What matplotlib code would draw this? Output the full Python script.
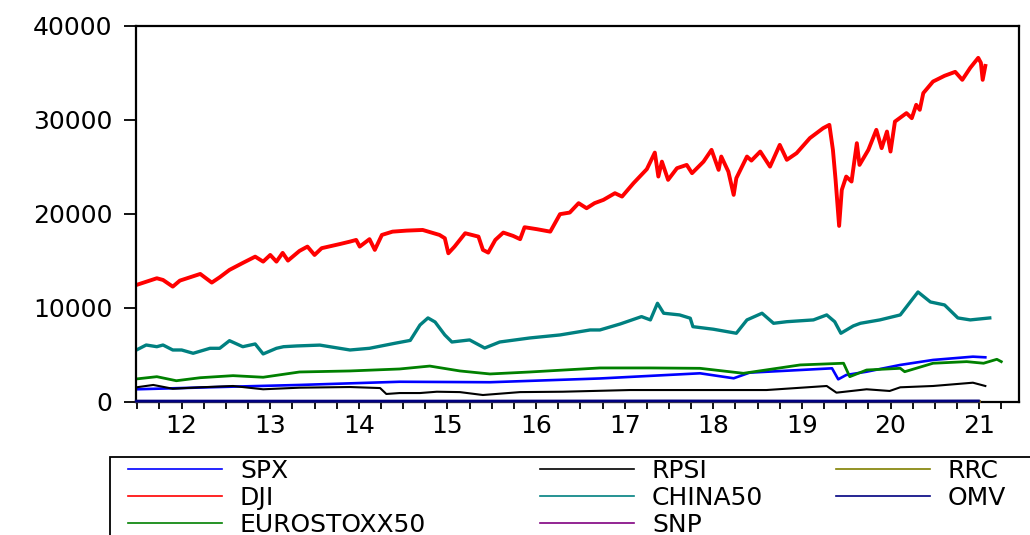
import numpy as np
import matplotlib
matplotlib.use("Agg")
import matplotlib.pyplot as plt
from matplotlib.patches import Rectangle

plt.rcParams['font.family'] = ['DejaVu Sans']

# ---------------- data (time in fractional years on the chart's axis) ----------------
spx_t = [2011.99, 2013.08, 2013.83, 2014.96, 2015.98, 2017.22, 2018.35, 2018.73, 2018.91,
         2019.48, 2019.84, 2019.91, 2020.00, 2020.23, 2020.61, 2020.98, 2021.43, 2021.57]
spx_v = [1300, 1580, 1760, 2100, 2050, 2450, 3000, 2470, 3070,
         3350, 3530, 2360, 2820, 3170, 3890, 4420, 4770, 4700]

dji_t = [2011.99, 2012.22, 2012.29, 2012.40, 2012.48, 2012.71, 2012.84, 2012.93, 2013.04, 2013.19,
         2013.33, 2013.42, 2013.50, 2013.57, 2013.64, 2013.70, 2013.83, 2013.92, 2014.00, 2014.08,
         2014.29, 2014.40, 2014.47, 2014.51, 2014.62, 2014.68, 2014.76, 2014.88, 2015.04, 2015.22,
         2015.41, 2015.47, 2015.51, 2015.58, 2015.70, 2015.85, 2015.90, 2015.96, 2016.04, 2016.13,
         2016.24, 2016.32, 2016.37, 2016.51, 2016.66, 2016.77, 2016.88, 2016.98, 2017.07, 2017.16,
         2017.26, 2017.39, 2017.47, 2017.60, 2017.75, 2017.84, 2017.88, 2017.92, 2017.99, 2018.09,
         2018.20, 2018.26, 2018.39, 2018.48, 2018.56, 2018.59, 2018.67, 2018.73, 2018.76, 2018.88,
         2018.93, 2019.03, 2019.14, 2019.25, 2019.33, 2019.44, 2019.59, 2019.74, 2019.81, 2019.85,
         2019.88, 2019.92, 2019.95, 2020.00, 2020.06, 2020.12, 2020.15, 2020.25, 2020.34, 2020.40,
         2020.46, 2020.50, 2020.55, 2020.68, 2020.74, 2020.79, 2020.83, 2020.87, 2020.98, 2021.11,
         2021.23, 2021.31, 2021.40, 2021.49, 2021.52, 2021.54, 2021.57]
dji_v = [12400, 13110, 12930, 12220, 12860, 13570, 12650, 13220, 14000, 14740,
         15410, 14880, 15590, 14880, 15810, 14990, 16020, 16480, 15590, 16310,
         16760, 17010, 17190, 16480, 17270, 16130, 17720, 18070, 18180, 18250,
         17720, 17370, 15770, 16480, 17900, 17540, 16130, 15840, 17190, 17970,
         17620, 17270, 18540, 18330, 18070, 19930, 20100, 21100, 20560, 21100,
         21450, 22160, 21800, 23230, 24720, 26480, 23930, 25520, 23580, 24820,
         25170, 24290, 25520, 26770, 24640, 26060, 24460, 21980, 23760, 26060,
         25630, 26590, 24990, 27300, 25710, 26420, 28020, 29080, 29430, 26770,
         23580, 18680, 22510, 23930, 23400, 27480, 25170, 26770, 28900, 26950,
         28720, 26590, 29780, 30680, 30140, 31560, 31030, 32810, 34040, 34650,
         35070, 34220, 35500, 36560, 36030, 34220, 35700]

euro_t = [2011.99, 2012.22, 2012.44, 2012.71, 2013.08, 2013.42, 2013.83, 2014.40, 2014.96, 2015.30,
          2015.64, 2015.98, 2016.43, 2017.22, 2017.79, 2018.35, 2018.84, 2019.48, 2019.97, 2020.04,
          2020.23, 2020.61, 2020.66, 2020.98, 2021.36, 2021.55, 2021.70, 2021.75]
euro_v = [2400, 2640, 2210, 2530, 2750, 2580, 3140, 3250, 3460, 3770,
          3250, 2930, 3140, 3570, 3570, 3530, 3000, 3890, 4070, 2640,
          3350, 3530, 3170, 4070, 4240, 4070, 4490, 4240]

rpsi_t = [2011.99, 2012.18, 2012.40, 2012.71, 2013.08, 2013.42, 2013.83, 2014.40, 2014.74, 2014.81,
          2014.96, 2015.19, 2015.38, 2015.64, 2015.90, 2016.32, 2016.80, 2017.56, 2018.35, 2019.10,
          2019.78, 2019.89, 2020.23, 2020.49, 2020.61, 2020.98, 2021.43, 2021.57]
rpsi_v = [1510, 1760, 1360, 1510, 1650, 1300, 1470, 1540, 1430, 800,
          900, 900, 1040, 1000, 690, 1000, 1040, 1220, 1220, 1220,
          1650, 940, 1300, 1120, 1510, 1650, 2000, 1650]

china_t = [2011.99, 2012.10, 2012.22, 2012.29, 2012.40, 2012.50, 2012.63, 2012.82, 2012.93, 2013.04,
           2013.19, 2013.33, 2013.42, 2013.57, 2013.65, 2013.80, 2014.06, 2014.40, 2014.62, 2014.91,
           2015.08, 2015.19, 2015.28, 2015.36, 2015.47, 2015.55, 2015.75, 2015.92, 2016.09, 2016.43,
           2016.77, 2017.11, 2017.22, 2017.45, 2017.69, 2017.79, 2017.87, 2017.94, 2018.12, 2018.24,
           2018.27, 2018.50, 2018.76, 2018.88, 2019.05, 2019.18, 2019.33, 2019.63, 2019.78, 2019.87,
           2019.94, 2020.08, 2020.16, 2020.38, 2020.61, 2020.74, 2020.81, 2020.95, 2021.11, 2021.26,
           2021.40, 2021.62]
china_v = [5480, 6010, 5830, 6010, 5480, 5480, 5130, 5660, 5660, 6470,
           5830, 6120, 5060, 5660, 5830, 5910, 6000, 5480, 5660, 6200,
           6500, 8140, 8890, 8460, 7080, 6330, 6550, 5690, 6330, 6760,
           7080, 7610, 7610, 8250, 9030, 8680, 10450, 9390, 9210, 8860,
           7960, 7690, 7260, 8680, 9390, 8320, 8490, 8680, 9210, 8490,
           7260, 8040, 8320, 8680, 9210, 10800, 11650, 10590, 10270, 8890,
           8680, 8890]

small_t = [2011.99, 2014.00, 2016.00, 2018.00, 2020.00, 2021.50]
snp_v = [0.40, 0.25, 0.30, 0.35, 0.30, 0.45]
rrc_v = [0.20, 0.15, 0.10, 0.15, 0.10, 0.20]
omv_t = [2011.99, 2014.00, 2016.00, 2018.00, 2020.00, 2021.49]
omv_v = [30, 25, 30, 45, 25, 45]

year_labels = ['12', '13', '14', '15', '16', '17', '18', '19', '20', '21']
y_ticks = [0, 10000, 20000, 30000, 40000]

# ---------------- figure ----------------
W, H = 1030, 535
fig = plt.figure(figsize=(W / 100, H / 100), dpi=100)
ax = fig.add_axes([136 / W, 1 - 401.5 / H, (1019 - 136) / W, (401.5 - 25.5) / H])

l_spx, = ax.plot(spx_t, spx_v, color='#0000ff', lw=1.9)
l_dji, = ax.plot(dji_t, dji_v, color='#ff0000', lw=2.8)
l_euro, = ax.plot(euro_t, euro_v, color='#008000', lw=2.0)
l_rpsi, = ax.plot(rpsi_t, rpsi_v, color='#000000', lw=1.5)
l_china, = ax.plot(china_t, china_v, color='#008080', lw=2.4)
l_snp, = ax.plot(small_t, snp_v, color='#800080', lw=2.2, clip_on=False, zorder=3)
l_rrc, = ax.plot(small_t, rrc_v, color='#808000', lw=2.2, clip_on=False, zorder=3)
l_omv, = ax.plot(omv_t, omv_v, color='#000080', lw=2.2, clip_on=False, zorder=3)

ax.set_xlim(2011.985, 2021.95)
ax.set_ylim(0, 40000)

ax.set_yticks(y_ticks, [str(v) for v in y_ticks])
mids = [2012.5 + i for i in range(len(year_labels))]
ax.set_xticks(mids, year_labels)
quarters = [2012 + 0.25 * k for k in range(40) if (k % 4) != 2]
ax.set_xticks(quarters, minor=True)

ax.tick_params(axis='y', direction='out', length=9, width=1.3, pad=8, labelsize=18)
ax.tick_params(axis='x', which='both', direction='out', length=5, width=1.3, pad=4, labelsize=18)
for s in ax.spines.values():
    s.set_linewidth(1.6)

# ---------------- legend ----------------
fs = 18
fpx = fs * 100 / 72
fig.add_artist(Rectangle((110 / W, -0.1), 1.0, (1 - 457 / H) + 0.1, transform=fig.transFigure,
                         fill=False, lw=1.3, ec='black', clip_on=False))
cols = [([l_spx, l_dji, l_euro], ['SPX', 'DJI', 'EUROSTOXX50'], 128),
        ([l_rpsi, l_china, l_snp], ['RPSI', 'CHINA50', 'SNP'], 540),
        ([l_rrc, l_omv], ['RRC', 'OMV'], 836)]
for hs, labs, x in cols:
    leg = fig.legend(hs, labs, loc='upper left', bbox_to_anchor=(x / W, 1 - 459 / H),
                     frameon=False, borderpad=0, borderaxespad=0, fontsize=fs,
                     handlelength=94 / fpx, handletextpad=18 / fpx, labelspacing=0.12)
    for ln in leg.get_lines():
        ln.set_linewidth(1.2)

fig.savefig('out.png', dpi=100)
